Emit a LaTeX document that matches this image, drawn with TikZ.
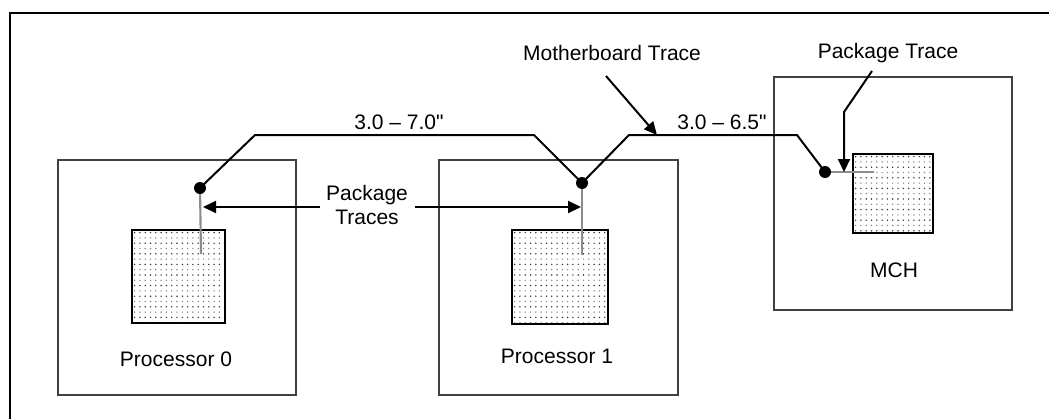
\documentclass[tikz,border=0pt]{standalone}
\usepackage{fontspec}
\newfontfamily\lbfont{Liberation Sans}
\usetikzlibrary{arrows.meta}
\newcommand\stipple[4]{%
  \begin{scope}
    \clip (#1,#2) rectangle (#3,#4);
    \pgfmathtruncatemacro\nx{(#3-#1)/5.3}
    \pgfmathtruncatemacro\ny{(#4-#2)/5.3}
    \foreach \j in {0,...,\ny} {
      \ifodd\j \def\dc{black!45}\else\def\dc{black!80}\fi
      \foreach \i in {0,...,\nx}
        \fill[\dc] ({#1+2.6+5.3*\i},{#2+2.6+5.3*\j}) circle (0.8);
    }
  \end{scope}}
\begin{document}
\begin{tikzpicture}[x=0.75pt,y=-0.75pt,
  font=\lbfont\fontsize{15.75}{18}\selectfont,
  chip/.style={draw=black!75, line width=1pt, fill=white, inner sep=0pt, outer sep=0pt},
  die/.style={draw=black, line width=1pt, inner sep=0pt, outer sep=0pt},
  pin/.style={circle, fill=black, inner sep=0pt, minimum size=9pt},
  trace/.style={line width=1.5pt, black},
  pkg/.style={line width=1.6pt, black!45},
  arr/.style={line width=1.5pt, -{Triangle[length=9.75pt,width=9pt]}},
  lbl/.style={inner sep=0pt, align=center}]
\useasboundingbox (0,0) rectangle (1049,418);
% outer frame
\draw[line width=1.9pt] (10,420) -- (10,13) -- (1049,13);
% chips
\node[chip, minimum width=238*0.75pt, minimum height=235*0.75pt] (cpu0) at (177,277.5) {};
\node[chip, minimum width=239*0.75pt, minimum height=235*0.75pt] (cpu1) at (558.5,277.5) {};
\node[chip, minimum width=238*0.75pt, minimum height=233*0.75pt] (mch) at (893,193.5) {};
% dies
\stipple{132}{230}{225}{323}
\node[die, minimum width=93*0.75pt, minimum height=93*0.75pt] (die0) at (178.5,276.5) {};
\stipple{512}{230}{608}{324}
\node[die, minimum width=96*0.75pt, minimum height=94*0.75pt] (die1) at (560,277) {};
\stipple{853}{154}{933}{233}
\node[die, minimum width=80*0.75pt, minimum height=79*0.75pt] (die2) at (893,193.5) {};
% labels
\node[lbl] (l0) at (176,359) {Processor 0};
\node[lbl] (l1) at (557,356) {Processor 1};
\node[lbl] (l2) at (894,270) {MCH};
\node[lbl] (len1) at (399,122) {3.0 – 7.0"};
\node[lbl] (len2) at (722,122) {3.0 – 6.5"};
\node[lbl] (mbt) at (612,53) {Motherboard Trace};
\node[lbl] (pkt) at (888,53) {Package Trace};
\node[lbl] (pkts) at (367,205) {Package\\Traces};
% package traces (grey)
\coordinate (p0) at (200,188);
\coordinate (p1) at (582,183);
\coordinate (p2) at (825,172);
\coordinate (e0) at (201,254);
\coordinate (e1) at (582,255);
\coordinate (e2) at (874,173);
\draw[pkg] (p0) -- (e0);
\draw[pkg] (p1) -- (e1);
\draw[pkg] (p2) -- (p2 -| e2);
% pins
\node[pin] (pin0) at (p0) {};
\node[pin] (pin1) at (p1) {};
\node[pin] (pin2) at (p2) {};
% motherboard traces
\coordinate (b1) at (255,135);
\coordinate (b2) at (534,135);
\coordinate (b3) at (629,135);
\coordinate (b4) at (797,135);
\draw[trace] (pin0.center) -- (b1) -- (b2) -- (pin1.center) -- (b3) -- (b4) -- (pin2.center);
% arrows
\coordinate (a0s) at (320,207);
\coordinate (a0e) at (203,207);
\coordinate (a1s) at (415,207);
\coordinate (a1e) at (581,207);
\draw[arr] (a0s) -- (a0e);
\draw[arr] (a1s) -- (a1e);
\coordinate (m0) at (606,76);
\coordinate (m1) at (657,135);
\draw[arr] (m0) -- (m1);
\coordinate (k0) at (872,71);
\coordinate (k1) at (844,112);
\coordinate (k2) at (844,172);
\draw[arr] (k0) -- (k1) -- (k2);
\end{tikzpicture}
\end{document}
